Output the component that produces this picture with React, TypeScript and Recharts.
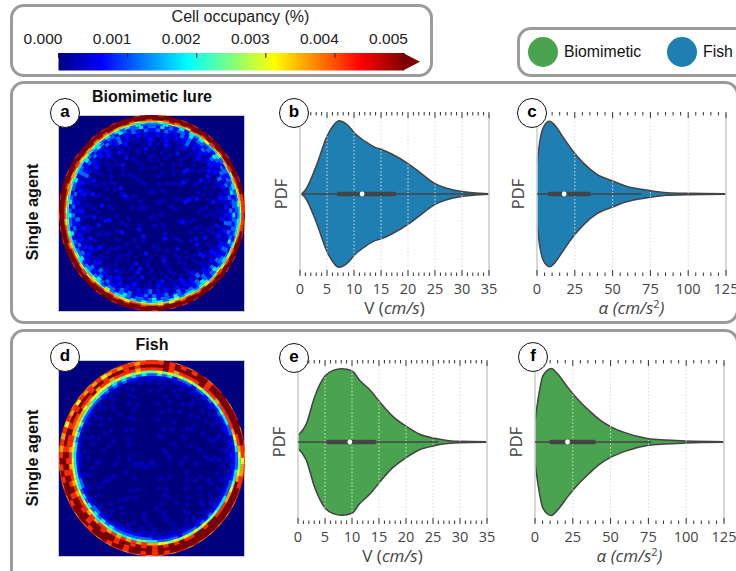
import { ComposedChart, Area, XAxis, YAxis, ReferenceLine, ReferenceDot, ReferenceArea, Label, PieChart, Pie, Cell } from "recharts";

const SANS = "'Liberation Sans', Arial, sans-serif";
const AXIS_FONT = "'Open Sans', sans-serif";
const BLUE = "#1f7fb2";
const GREEN = "#4aa34e";

// violin half widths
const lureSpeedX = [0.3, 1, 3, 5, 6, 7.2, 8, 9, 10, 12, 14, 15, 17, 20, 22, 25, 27, 30, 32, 35];
const lureSpeedW = [0, 0.05, 0.35, 0.72, 0.84, 0.917, 0.9, 0.85, 0.77, 0.66, 0.58, 0.56, 0.5, 0.38, 0.28, 0.13, 0.075, 0.03, 0.017, 0.004];
const lureAccelX = [0, 1.8, 4.4, 8.4, 12, 17.6, 24.9, 30.9, 39.7, 50, 58, 75, 86, 100, 125];
const lureAccelW = [0.36, 0.65, 0.84, 0.91, 0.855, 0.7, 0.51, 0.383, 0.246, 0.163, 0.104, 0.042, 0.017, 0.008, 0.003];
const fishSpeedX = [0, 1.5, 3.1, 5, 6.5, 8.1, 10, 11.4, 13.5, 15, 17.5, 20, 22.4, 25, 27.6, 30, 35];
const fishSpeedW = [0.08, 0.22, 0.57, 0.825, 0.895, 0.916, 0.89, 0.773, 0.639, 0.513, 0.324, 0.197, 0.1, 0.05, 0.02, 0.008, 0.004];
const fishAccelX = [0, 2, 5.3, 10.8, 15, 21.8, 29.5, 36, 42.6, 50.3, 59, 75, 86.5, 100, 125];
const fishAccelW = [0.26, 0.53, 0.83, 0.92, 0.85, 0.68, 0.51, 0.39, 0.28, 0.19, 0.12, 0.042, 0.025, 0.012, 0.004];

// low whisker, q1, median, q3, high whisker
const lureSpeedBox = [0.3, 7.2, 11.5, 17.5, 32.5];
const lureAccelBox = [0, 8.4, 18, 34.2, 69];
const fishSpeedBox = [0, 5.6, 9.6, 14.1, 26];
const fishAccelBox = [0, 10.8, 21.5, 38.9, 77];

const speedTicks = [0, 1, 2, 3, 4, 5, 6, 7, 8, 9, 10, 11, 12, 13, 14, 15, 16, 17, 18, 19, 20, 21, 22, 23, 24, 25, 26, 27, 28, 29, 30, 31, 32, 33, 34, 35];
const accelTicks = [0, 5, 10, 15, 20, 25, 30, 35, 40, 45, 50, 55, 60, 65, 70, 75, 80, 85, 90, 95, 100, 105, 110, 115, 120, 125];
const speedGrid = [5, 10, 15, 20, 25, 30];
const accelGrid = [25, 50, 75, 100];

const barTicks = [0, 0.001, 0.002, 0.003, 0.004, 0.005];
const barLabels = ["0.000", "0.001", "0.002", "0.003", "0.004", "0.005"];
const barRange = [0, 0.005];
const jetStops = [0, 0.125, 0.375, 0.625, 0.875, 1];
const jetColors = [[0, 0, 127], [0, 0, 255], [0, 255, 255], [255, 255, 0], [255, 0, 0], [127, 0, 0]];
const BAR_MAX = 0.005;

// occupancy for the digits used in the ring strings
const occupancyLevels = [0, 0.00028, 0.00066, 0.00113, 0.00179, 0.00245, 0.00302, 0.00358, 0.00415, 0.0052];

// radial bands of the arena: inner radius, outer radius, occupancy digit per sector clockwise from the top
const lureRadii = [[97, 98], [94, 97], [92.5, 94], [91, 92.5], [89.5, 91], [87.5, 89.5], [84.5, 87.5], [81, 84.5], [76, 81], [71, 76], [67, 71], [63, 67], [59, 63], [55, 59], [51, 55], [47, 51], [43, 47], [39, 43], [35, 39], [31, 35], [27, 31], [23, 27], [19, 23], [15, 19], [11, 15], [7, 11], [0, 7]];
const lureRings = [
  "989998989989998999899988989899989899989989898998998999899899989899989898998999899899989898999899",
  "999999999999999999999888888999999999999999999999999999999999999999999999999999999999999999999999",
  "998989899898989989887766567789898989899899899989989989899998989999899999999989998999989899998998",
  "767877687768767786766554445566767687768778786867778867787887687888788878888878788787878787787677",
  "454654354564453554543343344434554565465456566565565766576566756567675767676776767667656656565454",
  "334324243433243232343233233323234343244344354344343434435345443454445454454554544454443434343433",
  "324232332423323243233232342332432323423233243234323323423324323323432332343233243323242334324323342332432343233243233423",
  "231322132312232132213223123213223132123223132231322123213223132213231223132231223132123223132231221322313221322312232132",
  "121211212312121122121312112121213121122121211213121212112121321211212112123121121212211231212112121321121212112312112121",
  "101210112011210121011012101120112101210110121021101120110121012101102101211012011210121011012101210112011012",
  "010210100101001021010010110020100101201001010010210100101001201001010020110100100101201001010210100102",
  "100100201001010010010200100110010020100100101001002010010100100201001001010020100100101001001020",
  "001010010001002010010010001020010100100010100100201000100101001000201001001000101002001010",
  "10010001020001001001010001002000101001000100201000100100010200100010010100020010001",
  "01000100200010100010001002000101000100010020001010001000100200010100010001001",
  "00100100010000200100010010000100200010000100100010020000100010010000100",
  "1000010020001000010010000200010010000100010000200100010000100100",
  "0010000100020000100001000100002000010001000010000200010000",
  "0100010000200001000100001000010000200010000100001000",
  "0001000010000200010000100001000010000020000100",
  "010000100001000020000100001000001000010",
  "001000010000010000200001000010000",
  "100001000010000020000100001",
  "00100001000010000100",
  "01000010000100",
  "001000010",
  "00100",
];

const fishRadii = [[97, 98], [93.5, 97], [90.5, 93.5], [87.5, 90.5], [84.5, 87.5], [82, 84.5], [79.5, 82], [76.5, 79.5], [73, 76.5], [69, 73], [65, 69], [61, 65], [57, 61], [53, 57], [49, 53], [45, 49], [41, 45], [37, 41], [33, 37], [29, 33], [25, 29], [21, 25], [17, 21], [13, 17], [9, 13], [0, 9]];
const fishRings = [
  "879878789878898788978887888888878787878787887878787878878788787887878878878787887878788787887878",
  "889898989989999999999988677889999999999999999898989989989998999989998989878786878687878678788788",
  "999899999989999999998876556799999999999999999998999989899999899998999899989998998999899899989899",
  "889878888988878888876543334456778889989988989898989899899899898998989898988898889888978878888788",
  "565656565655554544332222222233344455565656565667787878787887878887878878878877777676666656565655",
  "343423332332322322221212121212222223232333233334455454545554565656566666566565655554544343434343",
  "212121221212121211211111101111111212122122122222333333334343434343444444444343433333323232322212",
  "111011101110110110101011100110101101011011111111212222222222332222332222222212122211121111011111",
  "010100101001001010010010010010100100101010010101111011111011111101111011101010110101001010100101",
  "0010010000100100010010000100100001001000010010000100100100001001000010010000100100001001001000010000",
  "01000010001000010000100010000010000100010000100001000100000100001000010001000010000100010000100001",
  "000100001000010000010000100001000100000100001000010000010001000010000100000100001000010000010000",
  "0000100000100001000001000000100001000001000010000010000001000010000010000100000100000",
  "01000001000010000000100001000001000000100001000000100000100001000000100000100001000",
  "0000100000010000100000010000001000010000000100000100000010000100000010000",
  "00100000010000000100000100000010000000100000100000010000000100000",
  "0000010000001000000010000010000000100000010000000100000010000",
  "01000000100000001000000100000001000000100000001000000",
  "0000100000010000000100000010000000100000010000",
  "00100000001000000100000001000000100000",
  "000001000000100000001000000100000",
  "0100000001000000100000",
  "000010000000100000",
  "00100000010000",
  "0000100",
  "00100",
];

const toTable = (xs: number[], ws: number[]) => xs.map((x, i) => ({ x, band: [-ws[i], ws[i]] }));

const jetColor = (v: number) => {
  const t = Math.min(v / BAR_MAX, 1);
  let i = 0;
  while (i < jetStops.length - 2 && t > jetStops[i + 1]) i++;
  const f = (t - jetStops[i]) / (jetStops[i + 1] - jetStops[i]);
  const c = jetColors[i].map((a, k) => Math.round(a + (jetColors[i + 1][k] - a) * f));
  return `rgb(${c[0]},${c[1]},${c[2]})`;
};

const frame = (left: number, top: number, width: number, height: number) => ({
  position: "absolute" as const,
  left,
  top,
  width,
  height,
  boxSizing: "border-box" as const,
  border: "3px solid #9b9b9b",
  borderRadius: 14,
  background: "#fff",
});

const Badge = ({ x, y, text }: { x: number; y: number; text: string }) => (
  <div
    style={{
      position: "absolute",
      left: x - 15,
      top: y - 15,
      width: 30,
      height: 30,
      boxSizing: "border-box",
      border: "1.6px solid #111",
      borderRadius: "50%",
      background: "#fff",
      fontFamily: SANS,
      fontWeight: 700,
      fontSize: 17,
      lineHeight: "25px",
      textAlign: "center",
      zIndex: 5,
    }}
  >
    {text}
  </div>
);

const Heatmap = ({ x, y, radii, rings }: { x: number; y: number; radii: number[][]; rings: string[] }) => (
  <div style={{ position: "absolute", left: x, top: y, width: 187, height: 197, background: "#00007f", boxSizing: "border-box", border: "1px solid #c9c9d4" }}>
    <div style={{ position: "absolute", left: -5.5, top: -1, width: 196, height: 196, transform: "scale(0.949,1)" }}>
      <PieChart width={196} height={196} margin={{ top: 0, right: 0, bottom: 0, left: 0 }}>
        {rings.map((ring, r) => (
          <Pie
            key={r}
            data={ring.split("").map((d) => ({ occupancy: occupancyLevels[Number(d)], share: 1 }))}
            dataKey="share"
            cx={98}
            cy={98}
            innerRadius={radii[r][0]}
            outerRadius={radii[r][1]}
            startAngle={90}
            endAngle={-270}
            isAnimationActive={false}
            stroke="none"
          >
            {ring.split("").map((d, i) => {
              const c = jetColor(occupancyLevels[Number(d)]);
              return <Cell key={i} fill={c} stroke={c} strokeWidth={0.3} />;
            })}
          </Pie>
        ))}
      </PieChart>
    </div>
  </div>
);

const makeTick = (step: number, side: "bottom" | "top") => (props: any) => {
  const { x, y, payload } = props;
  const major = payload.value % step === 0;
  const len = major ? 6 : 3.5;
  return (
    <g>
      <line x1={x} x2={x} y1={y} y2={side === "bottom" ? y - len : y + len} stroke="#333" strokeWidth={1} />
      {side === "bottom" && major && (
        <text x={x} y={y + 18} textAnchor="middle" fontFamily={AXIS_FONT} fontSize={14.5} fill="#444">
          {payload.value}
        </text>
      )}
    </g>
  );
};

const AxisTitle = ({ viewBox, accel }: any) => (
  <text x={viewBox.x + viewBox.width / 2} y={viewBox.y + 40} textAnchor="middle" fontFamily={AXIS_FONT} fontSize={17} fill="#444">
    {accel ? (
      <>
        <tspan fontStyle="italic">α (cm/s</tspan>
        <tspan dy={-6} fontSize={11}>2</tspan>
        <tspan dy={6} fontStyle="italic">)</tspan>
      </>
    ) : (
      <>
        V (<tspan fontStyle="italic">cm/s</tspan>)
      </>
    )}
  </text>
);

type ViolinProps = {
  left: number;
  top: number;
  xs: number[];
  ws: number[];
  box: number[];
  color: string;
  ticks: number[];
  grid: number[];
  max: number;
  step: number;
  accel?: boolean;
};

const Violin = ({ left, top, xs, ws, box, color, ticks, grid, max, step, accel }: ViolinProps) => (
  <div style={{ position: "absolute", left: left - 40, top: top - 4 }}>
    <ComposedChart width={241} height={210} data={toTable(xs, ws)} margin={{ top: 3, right: 12, bottom: 0, left: 0 }}>
      <YAxis
        type="number"
        domain={[-1, 1]}
        width={40}
        tick={false}
        axisLine={false}
        tickLine={false}
        label={{ value: "PDF", angle: -90, position: "center", dx: 1, fontFamily: AXIS_FONT, fontSize: 16.5, fill: "#444" }}
      />
      <XAxis
        dataKey="x"
        type="number"
        domain={[0, max]}
        ticks={ticks}
        interval={0}
        height={46}
        tickSize={0}
        tickLine={false}
        axisLine={false}
        allowDataOverflow
        tick={makeTick(step, "bottom")}
      >
        <Label content={(p: any) => <AxisTitle viewBox={p.viewBox} accel={accel} />} />
      </XAxis>
      <XAxis
        xAxisId="top"
        dataKey="x"
        orientation="top"
        type="number"
        domain={[0, max]}
        ticks={ticks}
        interval={0}
        height={1}
        tickSize={0}
        tickLine={false}
        axisLine={false}
        allowDataOverflow
        tick={makeTick(step, "top")}
      />
      <ReferenceLine x={0} stroke="#cfcfcf" strokeWidth={1.6} />
      <ReferenceLine x={max} stroke="#cfcfcf" strokeWidth={1.6} />
      <Area xAxisId="top" dataKey="band" type="monotone" fill="none" stroke="none" dot={false} activeDot={false} isAnimationActive={false} />
      <Area dataKey="band" type="monotone" fill={color} fillOpacity={1} stroke="#444" strokeWidth={1.5} dot={false} activeDot={false} isAnimationActive={false} />
      {grid.map((g) => (
        <ReferenceLine key={g} x={g} stroke="#d9d9d9" strokeWidth={1} strokeDasharray="1.5 2" />
      ))}
      <ReferenceLine segment={[{ x: box[0], y: 0 }, { x: box[4], y: 0 }]} stroke="#444" strokeWidth={1.3} />
      <ReferenceLine segment={[{ x: box[1], y: 0 }, { x: box[3], y: 0 }]} stroke="#444" strokeWidth={4.4} strokeLinecap="round" />
      <ReferenceDot x={box[2]} y={0} r={2.4} fill="#fff" stroke="none" />
    </ComposedChart>
  </div>
);

const ColorBar = () => (
  <div style={{ position: "absolute", left: 18, top: 28 }}>
    <ComposedChart
      width={420}
      height={46}
      margin={{ top: 24, right: 34, bottom: 3.5, left: 40.5 }}
      data={barRange.map((x) => ({ x, span: [0, 1] }))}
    >
      <defs>
        <linearGradient id="jet" x1="0" x2="1" y1="0" y2="0">
          {jetStops.map((s, i) => (
            <stop key={s} offset={s} stopColor={`rgb(${jetColors[i].join(",")})`} />
          ))}
        </linearGradient>
      </defs>
      <YAxis hide type="number" domain={[0, 1]} />
      <XAxis
        dataKey="x"
        orientation="top"
        type="number"
        domain={barRange}
        ticks={barTicks}
        interval={0}
        height={1}
        tickLine={false}
        axisLine={false}
        tickSize={0}
        tick={(p: any) => (
          <text x={p.x - 15.5} y={p.y - 7} textAnchor="middle" fontFamily={SANS} fontSize={15.5} fill="#222">
            {barLabels[barTicks.indexOf(p.payload.value)]}
          </text>
        )}
      />
      <ReferenceArea
        x1={0}
        x2={BAR_MAX}
        y1={0}
        y2={1}
        ifOverflow="visible"
        fill="none"
        shape={(p: any) => (
          <polygon points={`${p.x + p.width - 1},${p.y} ${p.x + p.width + 16},${p.y + p.height / 2} ${p.x + p.width - 1},${p.y + p.height}`} fill="#7f0000" />
        )}
      />
      <Area dataKey="span" type="linear" fill="url(#jet)" fillOpacity={1} stroke="none" dot={false} activeDot={false} isAnimationActive={false} />
      {barTicks.map((t) => (
        <ReferenceLine key={t} segment={[{ x: t, y: 1 }, { x: t, y: 0.72 }]} stroke="#222" strokeWidth={1} />
      ))}
    </ComposedChart>
  </div>
);

export default function App() {
  return (
    <div style={{ position: "absolute", left: 0, top: 0, width: 736, height: 571, overflow: "hidden", background: "#fff" }}>
      <div style={frame(10, 4, 423, 73)} />
      <div style={{ position: "absolute", left: 29, width: 423, top: 8, textAlign: "center", fontFamily: SANS, fontSize: 16, color: "#222" }}>Cell occupancy (%)</div>
      <ColorBar />

      <div style={frame(517, 27, 240, 50)} />
      <div style={{ position: "absolute", left: 528, top: 37, width: 30, height: 30, borderRadius: "50%", background: GREEN }} />
      <div style={{ position: "absolute", left: 564, top: 43, fontFamily: SANS, fontSize: 15.8, color: "#111" }}>Biomimetic</div>
      <div style={{ position: "absolute", left: 667, top: 37, width: 30, height: 30, borderRadius: "50%", background: BLUE }} />
      <div style={{ position: "absolute", left: 703, top: 43, fontFamily: SANS, fontSize: 15.8, color: "#111" }}>Fish</div>

      <div style={frame(10, 81, 729, 243)} />
      <div style={frame(10, 329, 729, 260)} />

      <div style={{ position: "absolute", left: 40, width: 224, top: 88, textAlign: "center", fontFamily: SANS, fontWeight: 700, fontSize: 16, color: "#111" }}>Biomimetic lure</div>
      <div style={{ position: "absolute", left: 40, width: 224, top: 336, textAlign: "center", fontFamily: SANS, fontWeight: 700, fontSize: 16, color: "#111" }}>Fish</div>

      {[212, 458].map((cy) => (
        <div key={cy} style={{ position: "absolute", left: 32, top: cy, transform: "translate(-50%,-50%) rotate(-90deg)", whiteSpace: "nowrap", fontFamily: SANS, fontWeight: 700, fontSize: 16.3, color: "#111" }}>
          Single agent
        </div>
      ))}

      <Heatmap x={58} y={115} radii={lureRadii} rings={lureRings} />
      <Heatmap x={58} y={360} radii={fishRadii} rings={fishRings} />

      <Violin left={299.5} top={113.5} xs={lureSpeedX} ws={lureSpeedW} box={lureSpeedBox} color={BLUE} ticks={speedTicks} grid={speedGrid} max={35} step={5} />
      <Violin left={536.7} top={113.5} xs={lureAccelX} ws={lureAccelW} box={lureAccelBox} color={BLUE} ticks={accelTicks} grid={accelGrid} max={125} step={25} accel />
      <Violin left={298.3} top={361.5} xs={fishSpeedX} ws={fishSpeedW} box={fishSpeedBox} color={GREEN} ticks={speedTicks} grid={speedGrid} max={35} step={5} />
      <Violin left={535.3} top={361.5} xs={fishAccelX} ws={fishAccelW} box={fishAccelBox} color={GREEN} ticks={accelTicks} grid={accelGrid} max={125} step={25} accel />

      <Badge x={65} y={113} text="a" />
      <Badge x={294} y={113} text="b" />
      <Badge x={532} y={113} text="c" />
      <Badge x={65} y={357} text="d" />
      <Badge x={294} y={358} text="e" />
      <Badge x={533} y={357} text="f" />
    </div>
  );
}
